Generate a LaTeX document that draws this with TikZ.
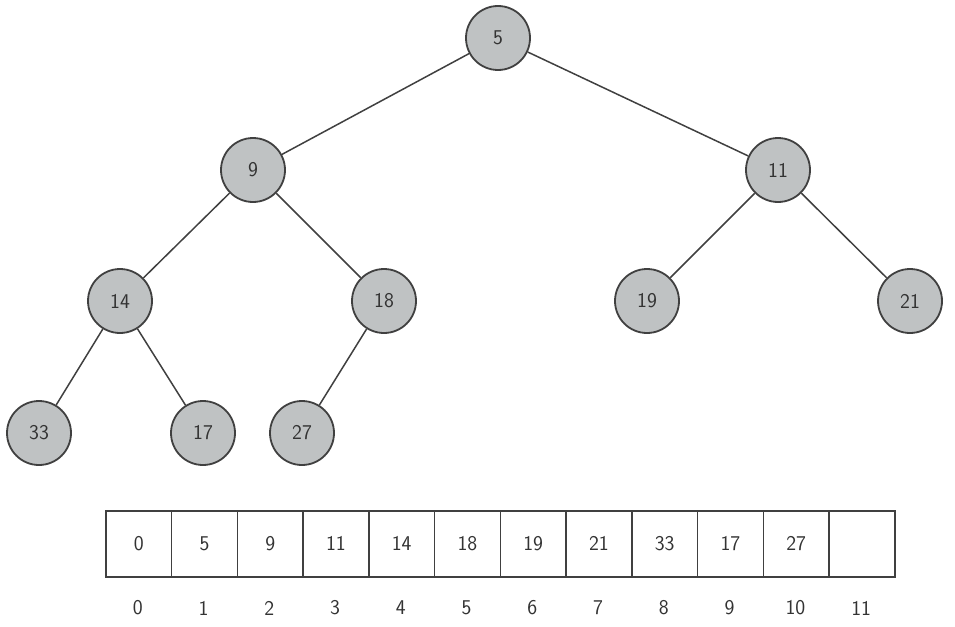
\documentclass[tikz,border=0pt]{standalone}
\definecolor{nodefill}{RGB}{191,194,195}
\definecolor{ink}{RGB}{64,64,64}
\begin{document}
\begin{tikzpicture}[x=1pt,y=-1pt,
  heapnode/.style={circle,draw=ink,line width=1.8pt,fill=nodefill,minimum size=64pt,inner sep=0pt,font=\sffamily\fontsize{21}{23}\selectfont,text=black!80},
  cell/.style={draw=ink,line width=1.7pt,minimum width=65.75pt,minimum height=66pt,inner sep=0pt,anchor=north west,font=\sffamily\fontsize{21}{23}\selectfont,text=black!80},
  idx/.style={font=\sffamily\fontsize{21}{23}\selectfont,text=black!80},
  edge/.style={draw=ink,line width=1.5pt}]
\useasboundingbox (0,0) rectangle (955,626);
\node[heapnode] (n5) at (498,38) {5};
\node[heapnode] (n9) at (253,170) {9};
\node[heapnode] (n11) at (778,170) {11};
\node[heapnode] (n14) at (120,301) {14};
\node[heapnode] (n18) at (384,301) {18};
\node[heapnode] (n19) at (647,301) {19};
\node[heapnode] (n21) at (910,301) {21};
\node[heapnode] (n33) at (39,433) {33};
\node[heapnode] (n17) at (203,433) {17};
\node[heapnode] (n27) at (302,433) {27};
\path[edge] (n5) -- (n9);
\path[edge] (n5) -- (n11);
\path[edge] (n9) -- (n14);
\path[edge] (n9) -- (n18);
\path[edge] (n11) -- (n19);
\path[edge] (n11) -- (n21);
\path[edge] (n14) -- (n33);
\path[edge] (n14) -- (n17);
\path[edge] (n18) -- (n27);
\foreach \v [count=\i from 0] in {0,5,9,11,14,18,19,21,33,17,27,{}} {
  \node[cell] (c\i) at ({105+65.75*\i},510) {\v};
  \node[idx] (i\i) at ({105+65.75*\i+32.875},608) {\i};
}
\end{tikzpicture}
\end{document}
